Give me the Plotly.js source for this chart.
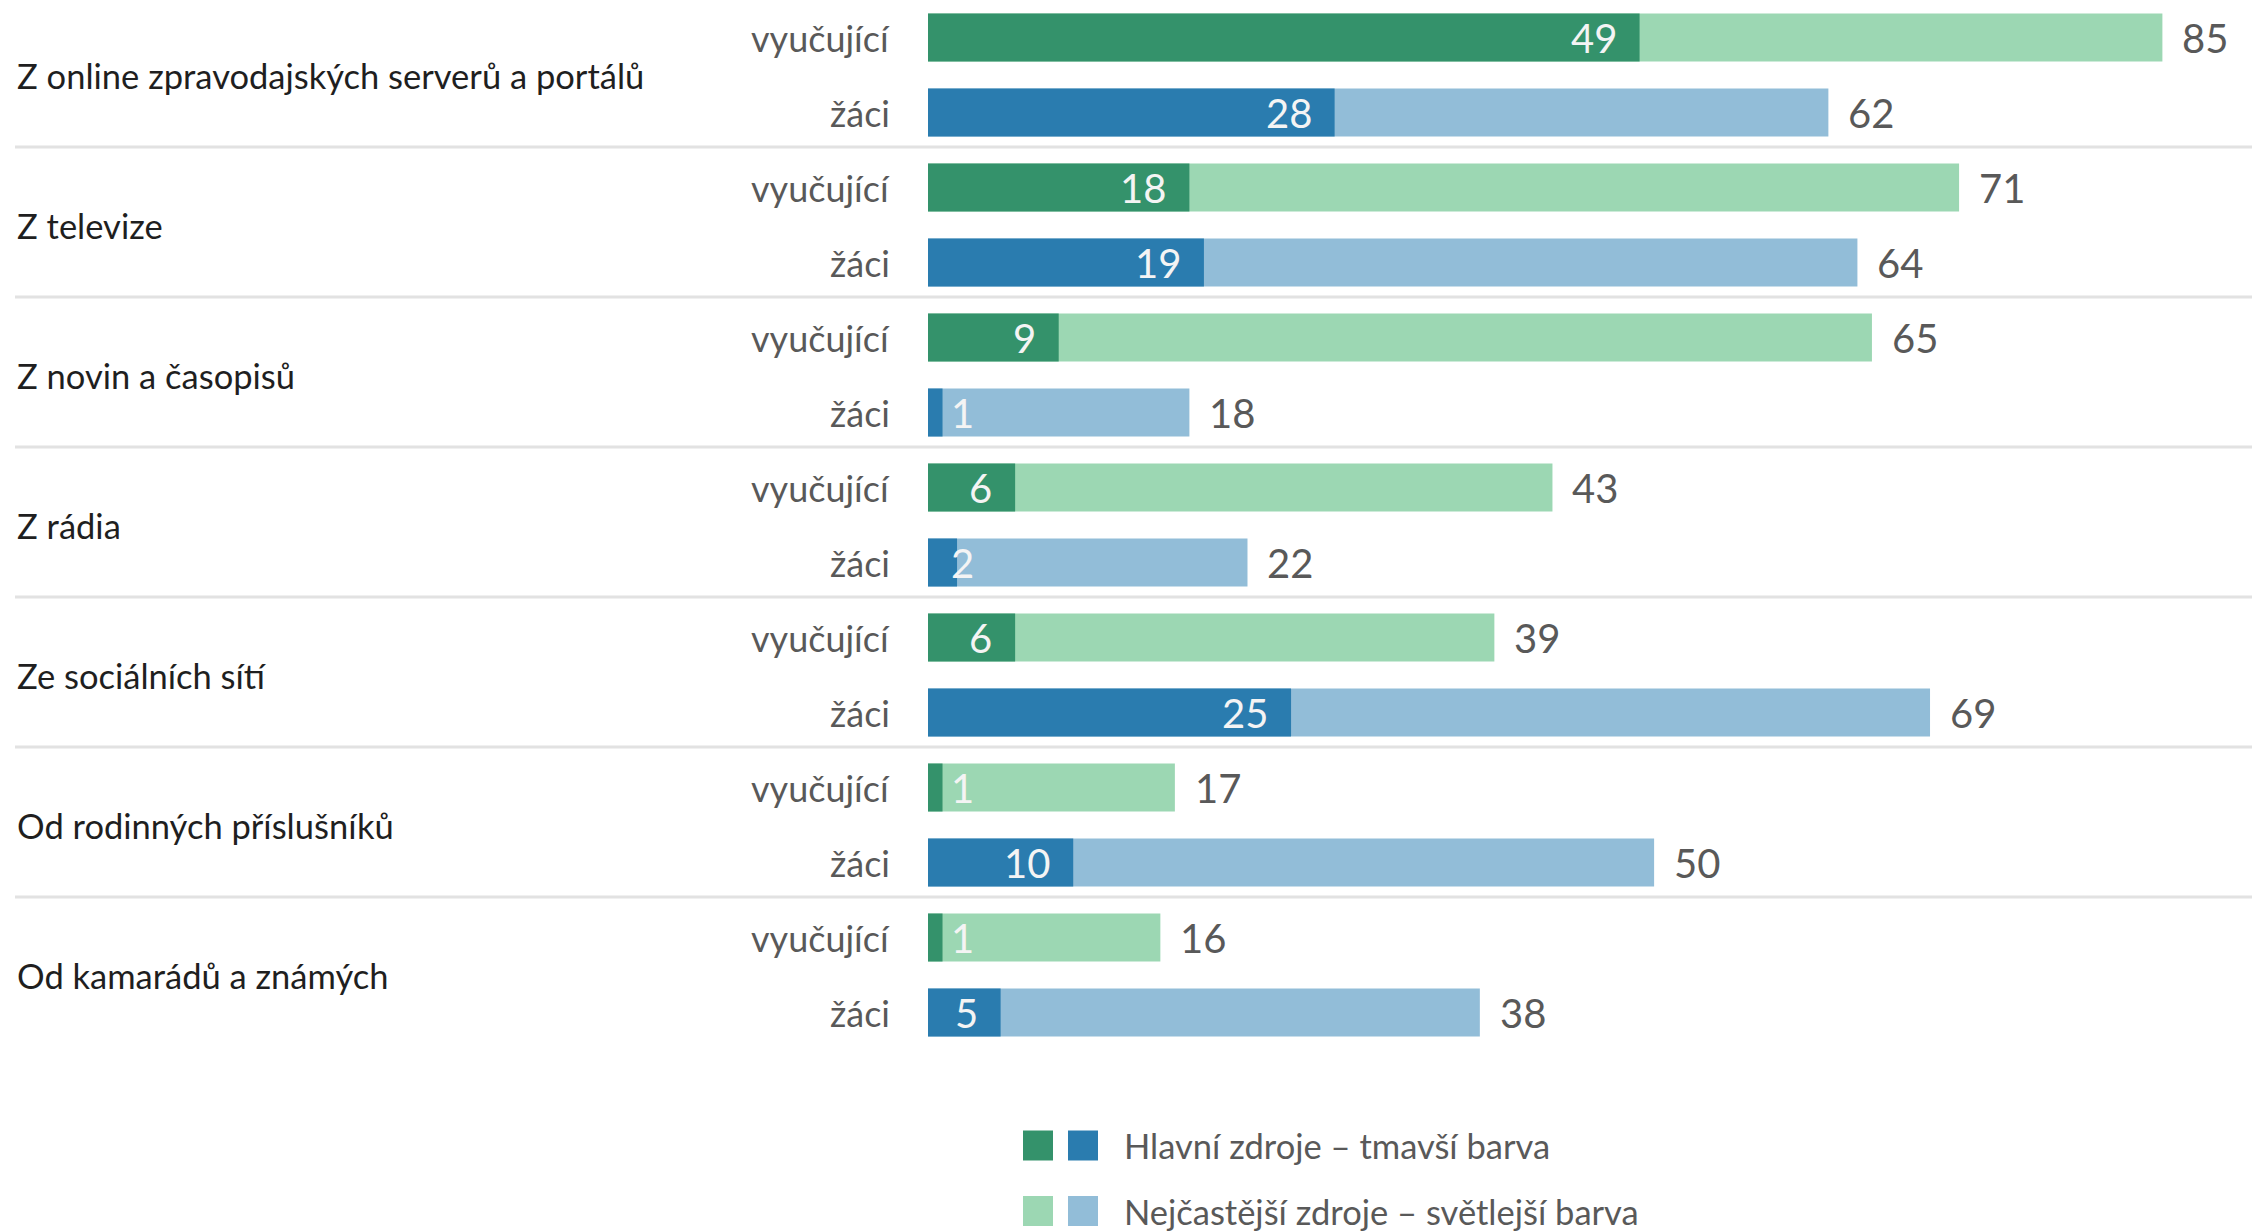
<!DOCTYPE html>
<html>
<head>
<meta charset="utf-8">
<script src="https://cdn.plot.ly/plotly-3.0.1.min.js"></script>
<style>
  html, body { margin: 0; padding: 0; background: #ffffff; }
  #chart { width: 2252px; height: 1232px; }
</style>
</head>
<body>
<div id="chart"></div>
<script>
// ---- data ----
const categories = [
  "Z online zpravodajských serverů a portálů",
  "Z televize",
  "Z novin a časopisů",
  "Z rádia",
  "Ze sociálních sítí",
  "Od rodinných příslušníků",
  "Od kamarádů a známých"
];
const roleLabels = ["vyučující", "žáci"];
const teacherMain = [49, 18, 9, 6, 6, 1, 1];
const teacherFreq = [85, 71, 65, 43, 39, 17, 16];
const studentMain = [28, 19, 1, 2, 25, 10, 5];
const studentFreq = [62, 64, 18, 22, 69, 50, 38];
const legendLabels = ["Hlavní zdroje – tmavší barva", "Nejčastější zdroje – světlejší barva"];

// ---- styling ----
const W = 2252, H = 1232;
const mL = 928, mR = 17, mT = 0, mB = 182;
const plotW = W - mL - mR, plotH = H - mT - mB;
const FONT = "Lato, 'Open Sans', sans-serif";
const darkGreen = "#34926B", lightGreen = "#9CD7B3";
const darkBlue = "#2A7CAF", lightBlue = "#92BDD8";
const barW = 0.64;

const teacherRows = categories.map((c, i) => 2 * i);
const studentRows = categories.map((c, i) => 2 * i + 1);

function barTrace(x, y, color) {
  return {
    type: "bar", orientation: "h", x: x, y: y, width: barW,
    marker: { color: color, line: { width: 0 } },
    hoverinfo: "skip", showlegend: false
  };
}

const traces = [
  barTrace(teacherFreq, teacherRows, lightGreen),
  barTrace(studentFreq, studentRows, lightBlue),
  barTrace(teacherMain, teacherRows, darkGreen),
  barTrace(studentMain, studentRows, darkBlue)
];

const annotations = [];
const shapes = [];

function addRow(row, main, freq) {
  // role label
  annotations.push({
    xref: "paper", yref: "y", x: 0, y: row, xanchor: "right", yanchor: "middle",
    xshift: -36, showarrow: false, text: roleLabels[row % 2],
    font: { family: FONT, size: 36, color: "#595959" }
  });
  // total (light bar) label
  annotations.push({
    xref: "x", yref: "y", x: freq, y: row, xanchor: "left", yanchor: "middle",
    xshift: 18, showarrow: false, text: String(freq),
    font: { family: FONT, size: 40, color: "#595959" }
  });
  // main (dark bar) label, inside end, or from bar start if it does not fit
  const fits = main >= 3;
  annotations.push({
    xref: "x", yref: "y", x: fits ? main : 0, y: row,
    xanchor: fits ? "right" : "left", yanchor: "middle",
    xshift: fits ? -21 : 21, showarrow: false, text: String(main),
    font: { family: FONT, size: 40, color: "#F4F4F4" }
  });
}

categories.forEach((cat, i) => {
  addRow(teacherRows[i], teacherMain[i], teacherFreq[i]);
  addRow(studentRows[i], studentMain[i], studentFreq[i]);
  // group label
  annotations.push({
    xref: "paper", yref: "y", x: 0, y: 2 * i + 0.5, xanchor: "left", yanchor: "middle",
    xshift: -(mL - 15), showarrow: false, text: cat,
    font: { family: FONT, size: 34.5, color: "#1F1F1F" }
  });
  // separator between groups
  if (i < categories.length - 1) {
    shapes.push({
      type: "line", xref: "paper", yref: "y",
      x0: (15 - mL) / plotW, x1: (W - mL) / plotW,
      y0: 2 * i + 1.46, y1: 2 * i + 1.46,
      line: { color: "#E2E2E2", width: 3 }
    });
  }
});

// legend (two swatches per entry)
function px2paperX(px) { return (px - mL) / plotW; }
function px2paperY(py) { return (mT + plotH - py) / plotH; }
const legendRows = [
  { cy: 1145.5, colors: [darkGreen, darkBlue], text: legendLabels[0] },
  { cy: 1211, colors: [lightGreen, lightBlue], text: legendLabels[1] }
];
legendRows.forEach(r => {
  [1023, 1068].forEach((sx, k) => {
    shapes.push({
      type: "rect", xref: "paper", yref: "paper",
      x0: px2paperX(sx), x1: px2paperX(sx + 30),
      y0: px2paperY(r.cy + 15), y1: px2paperY(r.cy - 15),
      fillcolor: r.colors[k], line: { width: 0 }
    });
  });
  annotations.push({
    xref: "paper", yref: "paper", x: px2paperX(1122), y: px2paperY(r.cy),
    xanchor: "left", yanchor: "middle", showarrow: false, text: r.text,
    font: { family: FONT, size: 34.5, color: "#595959" }
  });
});

const layout = {
  width: W, height: H,
  margin: { l: mL, r: mR, t: mT, b: mB, pad: 0 },
  paper_bgcolor: "#ffffff", plot_bgcolor: "#ffffff",
  barmode: "overlay",
  showlegend: false,
  xaxis: { range: [0, 90], visible: false, fixedrange: true },
  yaxis: { range: [13.5, -0.5], visible: false, fixedrange: true },
  annotations: annotations,
  shapes: shapes,
  font: { family: FONT }
};

Plotly.newPlot("chart", traces, layout, { staticPlot: true, displayModeBar: false });
</script>
</body>
</html>
